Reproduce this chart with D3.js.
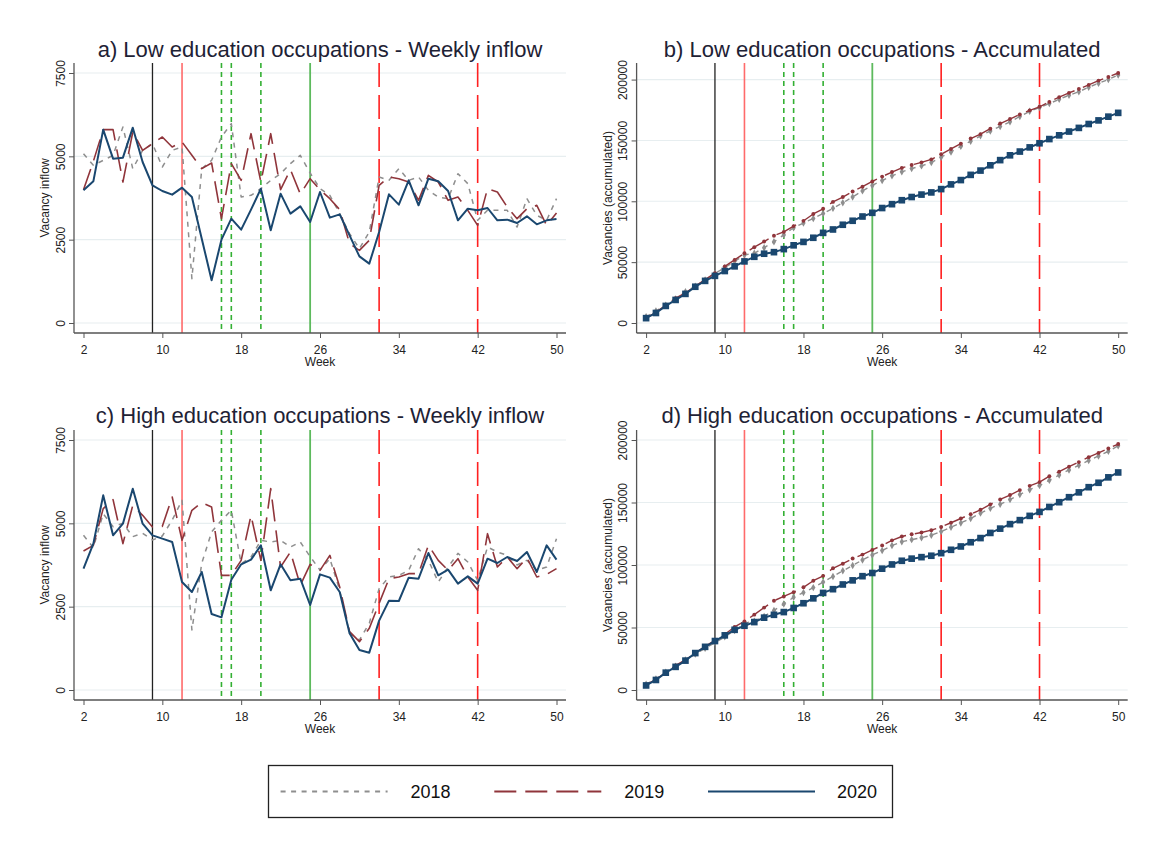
<!DOCTYPE html>
<html>
<head>
<meta charset="utf-8">
<script src="https://cdn.jsdelivr.net/npm/d3@7"></script>
<style>
  body { margin: 0; background: #fff; }
  svg { display: block; }
  text { font-family: Arial, "Liberation Sans", sans-serif; }
</style>
</head>
<body>
<svg id="chart" width="1163" height="847"></svg>
<script>
// Weeks 2..50 of each year
const weeks = d3.range(2, 51);

// Weekly vacancy inflow, low education occupations
const low2018 = [5080,4730,4880,5030,5880,4630,5180,5380, 4680,5180,5280,1330,4630,4880,5580,5980,
                 3780,3830,4030,4280,4480,4780,5030,4500, 4030,3830,3280,2680,2230,2730,4380,4280,
                 4630,4280,4380,3980,3780,3730,4480,4180, 3080,3380,3380,3380,2880,3730,3230,3080,3730];
const low2019 = [4000,4850,5800,5800,4230,5730,5180,5380, 5580,5280,5430,5030,4630,4800,3130,4780,
                 4280,5680,4230,5680,4000,4600,3870,4330, 4000,3730,3400,2380,2180,2480,4130,4380,
                 4330,4230,3680,4430,4230,3680,3780,3380, 2930,4030,3930,3480,3130,3430,3530,2930,3300];
const low2020 = [3980,4250,5800,4930,4960,5860,4830,4130, 3960,3850,4060,3780,2530,1280,2500,3130,
                 2800,3400,4030,2780,3880,3280,3500,3030, 3930,3160,3260,2630,2000,1780,2730,3860,
                 3550,4280,3530,4330,4250,3960,3080,3430, 3380,3450,3080,3100,3000,3200,2960,3080,3120];

// Weekly vacancy inflow, high education occupations
const high2018 = [4640,4270,5290,4900,5000,4600,4700,4500, 4620,5100,5690,1800,3800,4740,5090,5390,
                  3790,3990,4490,4440,4490,4290,4440,4000, 3600,3940,2990,1700,1500,2000,3040,3390,
                  3440,3590,4240,3890,3240,3690,4100,3840, 3290,4290,4140,4040,3750,3890,3590,3690,4540];
const high2019 = [4170,4340,5440,5710,4390,5540,5240,4890, 4910,5790,4490,5390,5620,5490,3440,3440,
                  3890,5240,3890,6040,3690,4140,3140,3770, 3590,4040,3090,1750,1450,1850,2600,3340,
                  3390,3490,3490,4340,3890,3590,3940,3390, 2990,4690,3690,3990,3640,3970,3390,3470,3640];
const high2020 = [3640,4390,5840,4640,4990,6040,4990,4640, 4540,4440,3240,2940,3540,2280,2180,3310,
                  3770,3910,4340,2990,3770,3290,3340,2550, 3470,3370,2940,1700,1200,1120,2080,2680,
                  2670,3370,3340,4110,3440,3610,3190,3410, 3190,3940,3810,3990,3870,4140,3540,4340,3910];

const years = ["2018", "2019", "2020"];
const weekTicks = [2, 10, 18, 26, 34, 42, 50];
const inflowTicks = [0, 2500, 5000, 7500];
const accumTicks = [0, 50000, 100000, 150000, 200000];

// Policy event weeks and the kind of marker line used for each
const eventWeeks = [9, 12, 16, 17, 20, 25, 32, 42];
const eventKinds = ["start", "closure", "easing", "easing", "easing", "reopen", "tighten", "tighten"];

const panelTitles = [
  "a) Low education occupations - Weekly inflow",
  "b) Low education occupations - Accumulated",
  "c) High education occupations - Weekly inflow",
  "d) High education occupations - Accumulated"
];
const yTitles = ["Vacancy inflow", "Vacancies (accumulated)"];

// ---------- styling ----------
const yearStyle = {
  "2018": { color: "#8e8e8e", dash: "5,5.5", width: 1.5 },
  "2019": { color: "#90353b", dash: "22,9", width: 1.6 },
  "2020": { color: "#1a476f", dash: null, width: 2 }
};
const eventStyle = {
  start:   { color: "#222222", dash: null, width: 1.3 },
  closure: { color: "#ff6b6b", dash: null, width: 1.6 },
  easing:  { color: "#33b033", dash: "5,4", width: 1.6 },
  reopen:  { color: "#5dba5d", dash: null, width: 1.8 },
  tighten: { color: "#ff2020", dash: "24,8", width: 1.6 }
};
const axisColor = "#555";
const fontStack = "Arial, 'Liberation Sans', sans-serif";

const svg = d3.select("#chart");

const panels = [
  { title: panelTitles[0], yTitle: yTitles[0], series: [low2018, low2019, low2020], accum: false, left: 74, right: 566, top: 63, bottom: 333, titleY: 56.5 },
  { title: panelTitles[1], yTitle: yTitles[1], series: [low2018, low2019, low2020], accum: true, left: 636.6, right: 1127.7, top: 63, bottom: 333, titleY: 56.5 },
  { title: panelTitles[2], yTitle: yTitles[0], series: [high2018, high2019, high2020], accum: false, left: 74, right: 566, top: 430, bottom: 700, titleY: 423 },
  { title: panelTitles[3], yTitle: yTitles[1], series: [high2018, high2019, high2020], accum: true, left: 636.6, right: 1127.7, top: 430, bottom: 700, titleY: 423 }
];

panels.forEach(p => {
  const g = svg.append("g");
  // accumulated panels show the running total of the weekly inflow
  const values = p.accum ? p.series.map(s => Array.from(d3.cumsum(s))) : p.series;
  const ticks = p.accum ? accumTicks : inflowTicks;
  const yMax = Math.max(d3.max(ticks), d3.max(values.flat()));

  const x = d3.scaleLinear().domain([2, 50]).range([p.left + 9.5, p.right - 9.5]);
  const y = d3.scaleLinear().domain([0, yMax]).range([p.bottom - 10, p.top + 10]);

  // horizontal grid
  g.append("g").selectAll("line").data(ticks).join("line")
    .attr("x1", p.left).attr("x2", p.right)
    .attr("y1", d => y(d)).attr("y2", d => y(d))
    .attr("stroke", "#e7eef0").attr("stroke-width", 1.1);

  // policy event lines
  g.append("g").selectAll("line").data(eventWeeks).join("line")
    .attr("x1", d => x(d)).attr("x2", d => x(d))
    .attr("y1", p.top).attr("y2", p.bottom)
    .attr("stroke", (d, i) => eventStyle[eventKinds[i]].color)
    .attr("stroke-width", (d, i) => eventStyle[eventKinds[i]].width)
    .attr("stroke-dasharray", (d, i) => eventStyle[eventKinds[i]].dash);

  // one line per year, with markers on the accumulated panels
  const line = d3.line().x((d, i) => x(weeks[i])).y(d => y(d));
  values.forEach((vals, k) => {
    const st = yearStyle[years[k]];
    g.append("path").datum(vals)
      .attr("d", line)
      .attr("fill", "none")
      .attr("stroke", st.color)
      .attr("stroke-width", p.accum && k < 2 ? 1.4 : st.width)
      .attr("stroke-dasharray", st.dash)
      .attr("stroke-linejoin", "round");
    if (p.accum) {
      const sym = k === 2 ? d3.symbol(d3.symbolSquare, 44)
                : k === 1 ? d3.symbol(d3.symbolCircle, 12)
                : d3.symbol(d3.symbolDiamond, 16);
      g.append("g").selectAll("path").data(vals).join("path")
        .attr("transform", (d, i) => `translate(${x(weeks[i])},${y(d)})`)
        .attr("d", sym)
        .attr("fill", st.color);
    }
  });

  // x axis
  const xAxis = g.append("g").attr("transform", `translate(0,${p.bottom})`)
    .call(d3.axisBottom(x).tickValues(weekTicks).tickSize(5).tickPadding(7.5).tickSizeOuter(0));
  xAxis.select(".domain").attr("d", `M${p.left},0H${p.right}`)
    .attr("stroke", axisColor).attr("stroke-width", 1.3);
  xAxis.selectAll(".tick line").attr("stroke", axisColor);
  xAxis.selectAll("text").attr("font-size", 12).attr("fill", "#222").attr("font-family", fontStack);

  // y axis with vertical labels
  const yAxis = g.append("g").attr("transform", `translate(${p.left},0)`)
    .call(d3.axisLeft(y).tickValues(ticks).tickSize(5).tickFormat(d3.format("d")).tickSizeOuter(0));
  yAxis.select(".domain").attr("d", `M0,${p.top}V${p.bottom}`)
    .attr("stroke", axisColor).attr("stroke-width", 1.3);
  yAxis.selectAll(".tick line").attr("stroke", axisColor);
  yAxis.selectAll("text")
    .attr("transform", "rotate(-90)")
    .attr("x", 0).attr("y", -9.5).attr("dy", null)
    .attr("text-anchor", "middle")
    .attr("font-size", 12).attr("fill", "#222")
    .attr("font-family", fontStack);

  // axis titles
  g.append("text")
    .attr("x", (p.left + p.right) / 2).attr("y", p.bottom + 33)
    .attr("text-anchor", "middle").attr("font-size", 12).attr("fill", "#222")
    .text("Week");
  g.append("text")
    .attr("transform", `translate(${p.left - 25},${(p.top + p.bottom) / 2}) rotate(-90)`)
    .attr("text-anchor", "middle").attr("font-size", 12).attr("fill", "#222")
    .text(p.yTitle);

  // panel title
  g.append("text")
    .attr("x", (p.left + p.right) / 2).attr("y", p.titleY)
    .attr("text-anchor", "middle").attr("font-size", 22).attr("fill", "#1e2235")
    .text(p.title);
});

// legend
const legend = svg.append("g");
legend.append("rect")
  .attr("x", 268.5).attr("y", 765.5).attr("width", 624).attr("height", 52)
  .attr("fill", "#fff").attr("stroke", "#222").attr("stroke-width", 1.3);
const legendX = d3.scalePoint().domain(years).range([280.6, 708]);
years.forEach(yr => {
  const st = yearStyle[yr];
  const x0 = legendX(yr);
  legend.append("line")
    .attr("x1", x0).attr("x2", x0 + 107).attr("y1", 791.5).attr("y2", 791.5)
    .attr("stroke", st.color).attr("stroke-width", 2)
    .attr("stroke-dasharray", st.dash);
  legend.append("text")
    .attr("x", yr === "2020" ? 877 : x0 + 170).attr("y", 798)
    .attr("text-anchor", "end")
    .attr("font-size", 18).attr("fill", "#111")
    .text(yr);
});
</script>
</body>
</html>
